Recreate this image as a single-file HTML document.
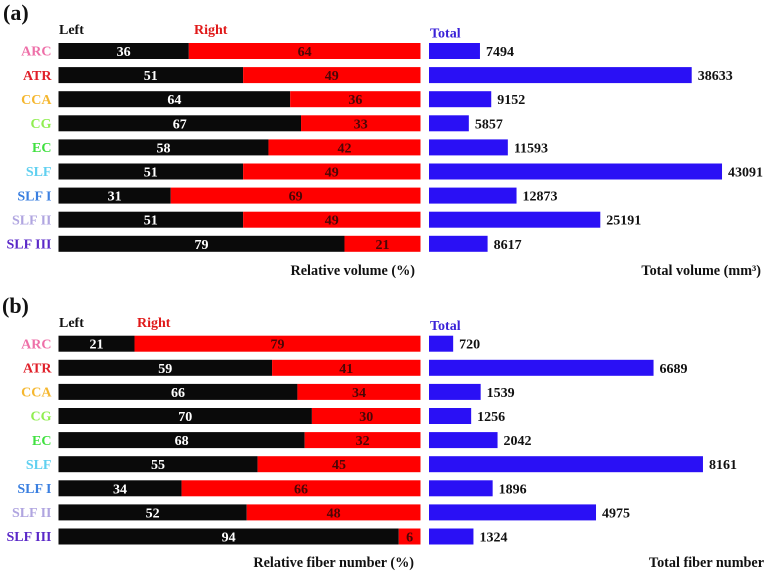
<!DOCTYPE html>
<html>
<head>
<meta charset="utf-8">
<title>Relative and total volume and fiber number</title>
<style>
html,body{margin:0;padding:0;background:#fff;width:765px;height:572px;overflow:hidden}
svg{display:block}
text{font-family:"Liberation Serif",serif;font-weight:bold;font-size:14px}
</style>
</head>
<body>
<svg id="chart" width="765" height="572" viewBox="0 0 765 572" xmlns="http://www.w3.org/2000/svg">
<text x="3" y="20" style="font-size:22px" fill="#111">(a)</text>
<text x="59" y="34" fill="#111">Left</text>
<text x="194" y="34" fill="#e01818">Right</text>
<text x="430" y="37.5" fill="#3a22d8">Total</text>
<text x="415" y="275" text-anchor="end" style="font-size:14.2px" fill="#111">Relative volume (%)</text>
<text x="761" y="275" text-anchor="end" style="font-size:14.2px" fill="#111">Total volume (mm³)</text>
<text x="2" y="313" style="font-size:22px" fill="#111">(b)</text>
<text x="59" y="327" fill="#111">Left</text>
<text x="137" y="327" fill="#e01818">Right</text>
<text x="430" y="330" fill="#3a22d8">Total</text>
<text x="414" y="567" text-anchor="end" style="font-size:14.2px" fill="#111">Relative fiber number (%)</text>
<text x="764" y="567" text-anchor="end" style="font-size:14.2px" fill="#111">Total fiber number</text>
</svg>
<script>
const categories = ['ARC', 'ATR', 'CCA', 'CG', 'EC', 'SLF', 'SLF I', 'SLF II', 'SLF III'];
const categoryColors = ['#ee6fa8', '#e0202a', '#f5b730', '#90ee50', '#40e040', '#60d0f0', '#3a7fe0', '#b0a5e0', '#5a28c8'];
const volumeLeft = [36, 51, 64, 67, 58, 51, 31, 51, 79];
const volumeRight = [64, 49, 36, 33, 42, 49, 69, 49, 21];
const volumeTotal = [7494, 38633, 9152, 5857, 11593, 43091, 12873, 25191, 8617];
const fiberLeft = [21, 59, 66, 70, 68, 55, 34, 52, 94];
const fiberRight = [79, 41, 34, 30, 32, 45, 66, 48, 6];
const fiberTotal = [720, 6689, 1539, 1256, 2042, 8161, 1896, 4975, 1324];

const NS = 'http://www.w3.org/2000/svg';
const svg = document.getElementById('chart');
const relX0 = 58.5, relW = 362, totX0 = 429, barH = 16, pitch = 24.1;

function relX(v) { return relX0 + v / 100 * relW; }

function addRect(x, y, w, h, fill) {
  const r = document.createElementNS(NS, 'rect');
  r.setAttribute('x', x);
  r.setAttribute('y', y);
  r.setAttribute('width', w);
  r.setAttribute('height', h);
  r.setAttribute('fill', fill);
  svg.appendChild(r);
  return r;
}

function addText(x, y, str, fill, anchor) {
  const t = document.createElementNS(NS, 'text');
  t.setAttribute('x', x);
  t.setAttribute('y', y);
  t.setAttribute('fill', fill);
  t.setAttribute('text-anchor', anchor);
  t.textContent = str;
  svg.appendChild(t);
  return t;
}

function drawPanel(panel, top, left, right, total, totalScale) {
  categories.forEach(function (cat, i) {
    const slug = cat.toLowerCase().replace(/ /g, '-');
    const y = top + i * pitch;
    const base = y + 13;

    const label = addText(51.5, base - 0.3, cat, categoryColors[i], 'end');
    
    

    const leftEnd = relX(left[i]);
    const leftBar = addRect(relX0, y, leftEnd - relX0, barH, '#0a0a0a');
    
    

    const rightEnd = relX(left[i] + right[i]);
    const rightBar = addRect(leftEnd, y, rightEnd - leftEnd, barH, '#ff0000');
    
    

    const leftVal = addText((relX0 + leftEnd) / 2, base, left[i], '#ffffff', 'middle');
    
    

    const rightVal = addText((leftEnd + rightEnd) / 2, base, right[i], '#4a0606', 'middle');
    
    

    const w = total[i] * totalScale;
    const totalBar = addRect(totX0, y, w, barH, '#2a10f5');
    
    

    const totalVal = addText(totX0 + w + 6, base, total[i], '#111111', 'start');
    
    
  });
}

drawPanel('volume', 43, volumeLeft, volumeRight, volumeTotal, 0.0068);
drawPanel('fiber', 335.7, fiberLeft, fiberRight, fiberTotal, 0.03357);
</script>
</body>
</html>
